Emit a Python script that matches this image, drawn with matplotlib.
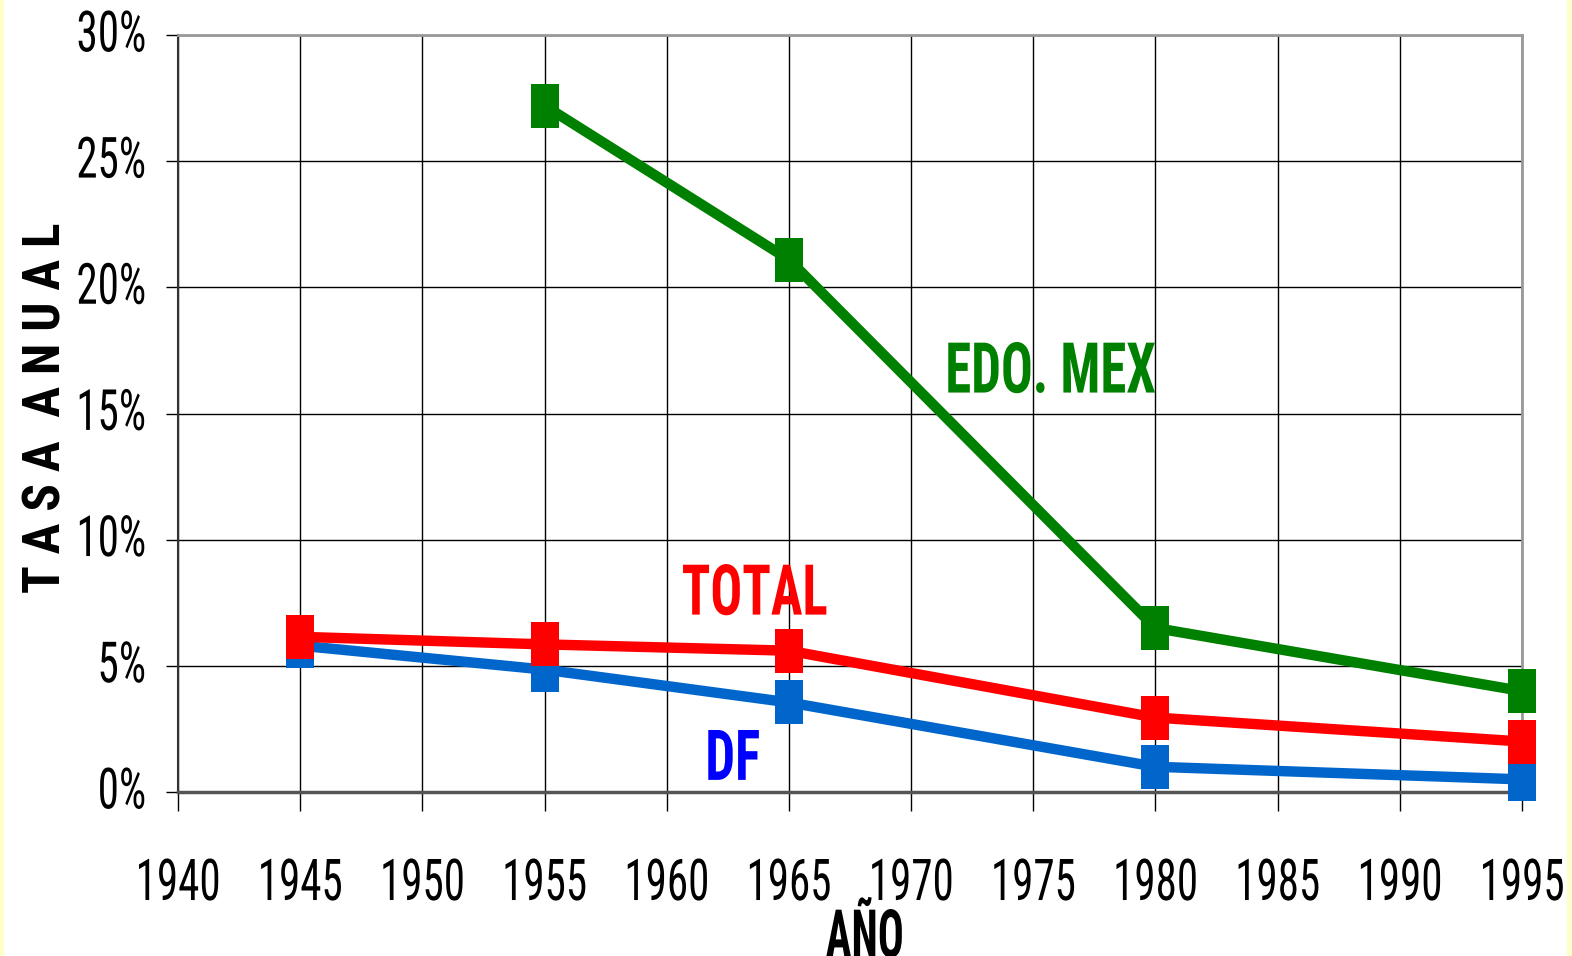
import matplotlib
matplotlib.use('Agg')
import matplotlib.pyplot as plt
from matplotlib.patches import Rectangle
from matplotlib.patheffects import AbstractPathEffect
from matplotlib.transforms import Affine2D
from matplotlib.ticker import FuncFormatter, MultipleLocator

# datos
years_df = [1945, 1955, 1965, 1980, 1995]
df_vals = [5.8, 4.85, 3.55, 1.0, 0.5]
years_total = [1945, 1955, 1965, 1980, 1995]
total_vals = [6.15, 5.85, 5.6, 2.95, 2.0]
years_edo = [1955, 1965, 1980, 1995]
edo_vals = [27.2, 21.1, 6.5, 4.0]

x_ticks = [1940, 1945, 1950, 1955, 1960, 1965, 1970, 1975, 1980, 1985, 1990, 1995]

FONT = ['Roboto Condensed', 'DejaVu Sans']
plt.rcParams['font.family'] = FONT


class Stretch(AbstractPathEffect):
    """estira el texto en vertical (la grafica original viene deformada)"""
    def __init__(self, sy):
        super().__init__()
        self.sy = sy

    def draw_path(self, renderer, gc, tpath, affine, rgbFace=None):
        ext = tpath.get_extents()
        cy = (ext.y0 + ext.y1) / 2.0
        t = Affine2D().translate(0, -cy).scale(1, self.sy).translate(0, cy) + affine
        renderer.draw_path(gc, tpath, t, rgbFace)


# marcador rectangular (mas alto que ancho)
RECT = [(-0.31, -0.5), (0.31, -0.5), (0.31, 0.5), (-0.31, 0.5), (-0.31, -0.5)]

fig = plt.figure(figsize=(15.72, 9.56), dpi=100)
fig.patch.set_facecolor('white')
fig.patches.append(Rectangle((0, 0), 0.002, 1, transform=fig.transFigure,
                             color='#ffffcc', zorder=-1))
fig.patches.append(Rectangle((0.997, 0), 0.003, 1, transform=fig.transFigure,
                             color='#ffffcc', zorder=-1))

ax = fig.add_axes([178/1572, 1 - 792/956, (1522-178)/1572, (792-35)/956])

kw = dict(lw=7.5, marker=RECT, ms=32, markeredgewidth=0, clip_on=False)
ax.plot(years_df, df_vals, color='#0066cc', zorder=3, **kw)
ax.plot(years_total, total_vals, color='#ff0000', zorder=4, **kw)
ax.plot(years_edo, edo_vals, color='#008000', zorder=5, **kw)

ax.set_xlim(1940, 1995)
ax.set_ylim(0, 30)
ax.set_xticks(x_ticks)
ax.yaxis.set_major_locator(MultipleLocator(5))
ax.yaxis.set_major_formatter(FuncFormatter(lambda v, p: '%d%%' % v))

ax.grid(True, color='black', lw=1)
ax.set_axisbelow(True)

ax.tick_params(axis='x', length=14, width=1, pad=37, labelsize=31)
ax.tick_params(axis='y', length=9, width=1, pad=14, labelsize=31)

for s in ['top', 'right']:
    ax.spines[s].set_color('#999999')
    ax.spines[s].set_linewidth(2)
ax.spines['bottom'].set_color('#555555')
ax.spines['bottom'].set_linewidth(2.5)
ax.spines['left'].set_color('#333333')
ax.spines['left'].set_linewidth(1.5)

fig.canvas.draw()
for lbl in ax.get_xticklabels():
    lbl.set_path_effects([Stretch(1.34)])
for lbl in ax.get_yticklabels():
    lbl.set_va('center')
    lbl.set_path_effects([Stretch(1.32)])

xl = ax.set_xlabel('AÑO', fontsize=31, fontweight='bold')
xl.set_path_effects([Stretch(1.55)])
ax.xaxis.set_label_coords(0.511, -0.189)
xl.set_va('center')

ax.set_ylabel('T A S A  A N U A L', fontsize=37, fontweight='bold')
ax.yaxis.set_label_coords(-0.0796, 0.508)

tx = ax.text(1975.7, 16.65, 'EDO. MEX', color='#008000', fontsize=38,
             fontweight='bold', va='center', ha='center')
tx.set_path_effects([Stretch(1.33)])
tx = ax.text(1963.6, 7.85, 'TOTAL', color='#ff0000', fontsize=38,
             fontweight='bold', va='center', ha='center')
tx.set_path_effects([Stretch(1.33)])
tx = ax.text(1962.7, 1.3, 'DF', color='#0000ff', fontsize=38,
             fontweight='bold', va='center', ha='center')
tx.set_path_effects([Stretch(1.33)])

fig.savefig('out.png', dpi=100, facecolor='white')
